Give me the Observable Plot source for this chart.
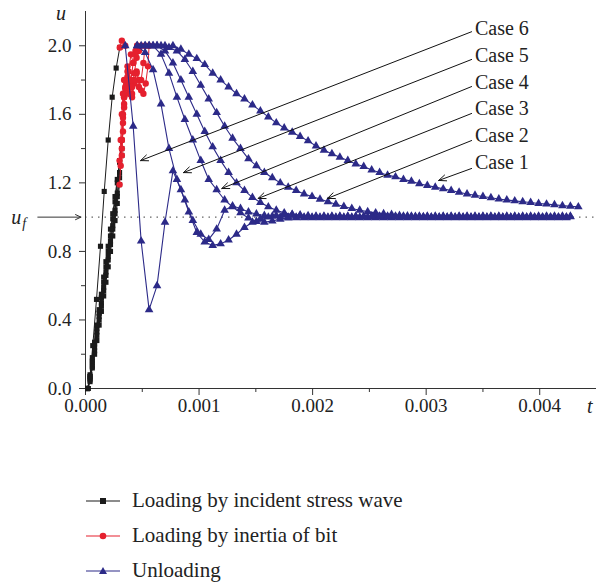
<!DOCTYPE html>
<html>
<head>
<meta charset="utf-8">
<script src="https://cdn.jsdelivr.net/npm/d3@7"></script>
<script src="https://cdn.jsdelivr.net/npm/@observablehq/plot@0.6"></script>
<style>
  html, body { margin: 0; padding: 0; background: #fff; }
  #wrap { position: relative; width: 600px; height: 584px; }
  #legend { position: absolute; left: 86px; top: 483px; font-family: "Liberation Serif", serif; font-size: 21px; color: #222; }
  #legend .row { display: flex; align-items: center; height: 35px; }
  #legend svg { margin-right: 12px; }
</style>
</head>
<body>
<div id="wrap">
  <div id="chart"></div>
  <div id="legend">
    <div class="row"><svg width="34" height="14"><line x1="0" y1="7" x2="34" y2="7" stroke="#1b1b1b" stroke-width="1.2"/><rect x="14" y="4" width="6" height="6" fill="#1b1b1b"/></svg><span>Loading by incident stress wave</span></div>
    <div class="row"><svg width="34" height="14"><line x1="0" y1="7" x2="34" y2="7" stroke="#e5202e" stroke-width="1.2"/><circle cx="17" cy="7" r="3.3" fill="#e5202e"/></svg><span>Loading by inertia of bit</span></div>
    <div class="row"><svg width="34" height="14"><line x1="0" y1="7" x2="34" y2="7" stroke="#2c2a88" stroke-width="1.2"/><polygon points="17,3 21,10 13,10" fill="#2c2a88"/></svg><span>Unloading</span></div>
  </div>
</div>
<script>
// ---------- tick values ----------
const xMajor = [0, 0.001, 0.002, 0.003, 0.004];
const xMinor = [0.0005, 0.0015, 0.0025, 0.0035];
const yMajor = [0, 0.4, 0.8, 1.2, 1.6, 2.0];
const yMinor = [0.2, 0.6, 1.4, 1.8];

// ---------- loading by incident stress wave (black) ----------
const tLoad = [0.00002,0.00004,0.00006,0.00008,0.0001,0.00012,0.00014,0.00016,0.00018,0.0002,0.00022,0.00024,0.00026,0.00028,0.0003,0.00032];
const load1 = [0,0.06,0.15,0.24,0.33,0.42,0.5,0.59,0.68,0.77,0.86,0.95,1.04,1.14,1.26,1.4];
const load2 = [0,0.05,0.13,0.22,0.31,0.4,0.48,0.57,0.66,0.75,0.84,0.93,1.02,1.12,1.23,1.36];
const load3 = [0,0.07,0.16,0.26,0.35,0.44,0.53,0.62,0.71,0.8,0.89,0.99,1.09,1.2,1.32,1.45];
const load4 = [0,0.04,0.12,0.2,0.28,0.37,0.45,0.54,0.62,0.71,0.8,0.89,0.98,1.08,1.19];
const load5 = [0,0.08,0.18,0.27,0.37,0.46,0.55,0.65,0.74,0.83,0.93,1.02,1.12,1.22,1.33];
const tLoad6 = [0.00002,0.00004,0.000064,0.000097,0.000132,0.000165,0.0002,0.000235,0.00027,0.000302];
const load6 = [0,0.07,0.25,0.52,0.83,1.15,1.45,1.7,1.87,1.99];

// ---------- loading by inertia of bit (red), [t, u] ----------
const inertia1 = [[0.00032,1.4],[0.00033,1.55],[0.00034,1.66],[0.00035,1.75],[0.00037,1.82],[0.00039,1.76],[0.00041,1.7],[0.00043,1.78],[0.00045,1.85],[0.00047,1.8],[0.00049,1.74],[0.00051,1.72],[0.00053,1.78],[0.00055,1.88],[0.00056,2.0]];
const inertia2 = [[0.00032,1.36],[0.00033,1.5],[0.00034,1.64],[0.00035,1.76],[0.00037,1.85],[0.00039,1.78],[0.00041,1.72],[0.00043,1.8],[0.00045,1.84],[0.00047,1.76],[0.00049,1.8],[0.00051,1.9],[0.000525,2.0]];
const inertia3 = [[0.00032,1.45],[0.00033,1.58],[0.00034,1.7],[0.00035,1.8],[0.00037,1.88],[0.00039,1.8],[0.00041,1.76],[0.00043,1.84],[0.00045,1.93],[0.00047,1.97],[0.00049,2.0]];
const inertia4 = [[0.0003,1.19],[0.00031,1.3],[0.00032,1.45],[0.00033,1.6],[0.00034,1.7],[0.00036,1.78],[0.00038,1.72],[0.0004,1.8],[0.00042,1.9],[0.00044,1.95],[0.000455,2.0]];
const inertia5 = [[0.0003,1.33],[0.00031,1.45],[0.00032,1.6],[0.00033,1.72],[0.00034,1.8],[0.00036,1.75],[0.00038,1.85],[0.0004,1.95],[0.00042,1.9],[0.00044,1.97],[0.000455,2.0]];
const inertia6 = [[0.000302,1.99],[0.00032,2.03],[0.00035,2.0]];

// ---------- unloading (blue) ----------
const tGridA = [0.00035,0.00042,0.00049,0.00056,0.00063,0.0007,0.00077,0.00084,0.00091,0.00098,
  0.00105,0.00112,0.00119,0.00126,0.00133,0.0014,0.00147,0.00154,0.00161,0.00168,
  0.00175,0.00182,0.00189,0.00196,0.00203,0.0021,0.00217,0.00224,0.00231,0.00238,
  0.00245,0.00252,0.00259,0.00266,0.00273,0.0028,0.00287,0.00294,0.00301,0.00308,
  0.00315,0.00322,0.00329,0.00336,0.00343,0.0035,0.00357,0.00364,0.00371,0.00378,
  0.00385,0.00392,0.00399,0.00406,0.00413,0.0042,0.00427,0.00434];
const tGridB = [0.000385,0.000455,0.000525,0.000595,0.000665,0.000735,0.000805,0.000875,0.000945,0.001015,
  0.001085,0.001155,0.001225,0.001295,0.001365,0.001435,0.001505,0.001575,0.001645,0.001715,
  0.001785,0.001855,0.001925,0.001995,0.002065,0.002135,0.002205,0.002275,0.002345,0.002415,
  0.002485,0.002555,0.002625,0.002695,0.002765,0.002835,0.002905,0.002975,0.003045,0.003115,
  0.003185,0.003255,0.003325,0.003395,0.003465,0.003535,0.003605,0.003675,0.003745,0.003815,
  0.003885,0.003955,0.004025,0.004095,0.004165,0.004235,0.004305];

const unload1 = [null,null,null,2.0,2.0,2.0,2.0,1.98,1.95,1.925,
  1.89,1.84,1.8,1.76,1.72,1.69,1.655,1.62,1.585,1.55,
  1.52,1.495,1.47,1.445,1.415,1.39,1.37,1.35,1.33,1.31,
  1.295,1.275,1.26,1.245,1.235,1.22,1.21,1.195,1.185,1.175,
  1.165,1.155,1.145,1.135,1.128,1.12,1.113,1.106,1.1,1.095,
  1.09,1.085,1.08,1.076,1.072,1.067,1.063,1.06];
const unload2 = [null,null,2.0,2.0,2.0,1.99,1.97,1.92,1.85,1.77,
  1.69,1.61,1.53,1.46,1.4,1.34,1.3,1.26,1.23,1.2,
  1.175,1.155,1.135,1.12,1.105,1.09,1.075,1.062,1.05,1.04,
  1.032,1.025,1.02,1.015,1.01,1.007,1.004,1.002,1.0,1.0,
  1.0,1.0,1.0,1.0,1.0,1.0,1.0,1.0,1.0,1.0,
  1.0,1.0,1.0,1.0,1.0,1.0];
const unload3 = [null,null,2.0,2.0,2.0,1.97,1.9,1.8,1.7,1.6,
  1.5,1.41,1.33,1.26,1.2,1.155,1.115,1.085,1.06,1.04,
  1.025,1.015,1.008,1.003,1.002,1.002,1.002,1.002,1.002,1.002,
  1.002,1.002,1.002,1.002,1.002,1.002,1.002,1.002,1.002,1.002,
  1.002,1.002,1.002,1.002,1.002,1.002,1.002,1.002,1.002,1.002,
  1.002,1.002,1.002,1.002,1.002,1.002,1.002];
const unload4 = [null,2.0,2.0,2.0,1.95,1.84,1.7,1.57,1.45,1.33,
  1.22,1.16,1.1,1.06,1.025,0.995,0.975,0.97,0.978,0.988,
  0.995,0.996,0.996,0.996,0.996,0.996,0.996,0.996,0.996,0.996,
  0.996,0.996,0.996,0.996,0.996,0.996,0.996,0.996,0.996,0.996,
  0.996,0.996,0.996,0.996,0.996,0.996,0.996,0.996,0.996,0.996,
  0.996,0.996,0.996,0.996,0.996,0.996];
const unload5 = [null,2.0,1.96,1.86,1.66,1.4,1.22,1.1,0.98,0.9,
  0.87,0.93,1.04,1.065,1.05,1.03,1.018,1.01,1.005,1.0,
  1.0,1.0,1.0,1.0,1.0,1.0,1.0,1.0,1.0,1.0,
  1.0,1.0,1.0,1.0,1.0,1.0,1.0,1.0,1.0,1.0,
  1.0,1.0,1.0,1.0,1.0,1.0,1.0,1.0,1.0,1.0,
  1.0,1.0,1.0,1.0,1.0,1.0];
const unload6 = [2.0,1.53,0.86,0.46,0.6,0.97,1.27,1.16,1.03,0.91,
  0.855,0.835,0.844,0.867,0.9,0.94,0.97,0.99,1.0,1.01,
  1.015,1.015,1.012,1.008,1.005,1.005,1.005,1.005,1.005,1.005,
  1.005,1.005,1.005,1.005,1.005,1.005,1.005,1.005,1.005,1.005,
  1.005,1.005,1.005,1.005,1.005,1.005,1.005,1.005,1.005,1.005,
  1.005,1.005,1.005,1.005,1.005,1.005,1.005];

// ---------- annotations ----------
const caseNames = ["Case 1","Case 2","Case 3","Case 4","Case 5","Case 6"];
const caseLabelT = 0.00343;
const caseLabelU = [1.319, 1.476, 1.634, 1.786, 1.943, 2.1];
const arrowStartT = 0.0034;
const arrowStartU = [1.284, 1.447, 1.605, 1.762, 1.92, 2.082];
const arrowTipT = [0.00311, 0.00213, 0.00152, 0.0012, 0.000863, 0.000485];
const arrowTipU = [1.214, 1.109, 1.109, 1.167, 1.26, 1.33];
const uf = 1.0;

// ---------- build tables ----------
const black = "#1b1b1b", red = "#e5202e", blue = "#2c2a88";
const loadSeries = [[tLoad, load1], [tLoad, load2], [tLoad, load3], [tLoad, load4], [tLoad, load5], [tLoad6, load6]];
const loadData = loadSeries.flatMap(([ts, us], c) => us.map((u, i) => ({c, t: ts[i], u})));
const inertiaData = [inertia1, inertia2, inertia3, inertia4, inertia5, inertia6]
  .flatMap((s, c) => s.map(([t, u]) => ({c, t, u})));
const unloadSeries = [[tGridA, unload1], [tGridB, unload2], [tGridA, unload3], [tGridB, unload4], [tGridB, unload5], [tGridA, unload6]];
const unloadData = unloadSeries.flatMap(([ts, us], c) => us.map((u, i) => ({c, t: ts[i], u})).filter(d => d.u != null));
const arrows = caseNames.map((name, i) => ({name, x1: arrowStartT, y1: arrowStartU[i], x2: arrowTipT[i], y2: arrowTipU[i]}));
const labels = caseNames.map((name, i) => ({name, t: caseLabelT, u: caseLabelU[i]}));

const axisColor = "#333";
const plot = Plot.plot({
  width: 600,
  height: 420,
  marginLeft: 85,
  marginRight: 4,
  marginTop: 11,
  marginBottom: 32,
  style: {fontFamily: "'Liberation Serif', serif", fontSize: "19px", color: "#222", background: "white"},
  x: {domain: [0, 0.0045], label: null},
  y: {domain: [0, 2.2], label: null},
  marks: [
    Plot.ruleY([uf], {stroke: "#666", strokeDasharray: "1.5,5", strokeWidth: 1.2}),
    Plot.ruleX([0], {stroke: axisColor}),
    Plot.ruleY([0], {stroke: axisColor}),
    Plot.axisX({ticks: xMajor, tickSize: 7, tickPadding: 3, tickFormat: d3.format(".3f"), label: null, stroke: axisColor, fontSize: 19}),
    Plot.axisX({ticks: xMinor, tickSize: 4, tickFormat: () => "", label: null, stroke: axisColor}),
    Plot.axisY({ticks: yMajor, tickSize: 6, tickPadding: 8, tickFormat: d3.format(".1f"), label: null, stroke: axisColor, fontSize: 19}),
    Plot.axisY({ticks: yMinor, tickSize: 4, tickFormat: () => "", label: null, stroke: axisColor}),
    // axis variable names
    Plot.text([0], {x: -0.000215, y: 2.19, text: () => "u", fontStyle: "italic", fontSize: 20, fill: "#222"}),
    Plot.text([0], {x: 0.00444, y: -0.105, text: () => "t", fontStyle: "italic", fontSize: 20, fill: "#222"}),
    Plot.text([0], {x: -0.00061, y: uf, text: () => "u", fontStyle: "italic", fontSize: 20, fill: "#222"}),
    Plot.text([0], {x: -0.00061, y: uf, dx: 8, dy: 6, text: () => "f", fontStyle: "italic", fontSize: 14, fill: "#222"}),
    Plot.arrow([0], {x1: -0.00042, x2: -0.00004, y1: uf, y2: uf, stroke: "#333", strokeWidth: 1, headLength: 9, headAngle: 50}),
    // curves
    Plot.line(loadData, {x: "t", y: "u", z: "c", stroke: black, strokeWidth: 1}),
    Plot.dot(loadData, {x: "t", y: "u", symbol: "square", r: 2.9, fill: black}),
    Plot.line(inertiaData, {x: "t", y: "u", z: "c", stroke: red, strokeWidth: 1}),
    Plot.dot(inertiaData, {x: "t", y: "u", r: 3.2, fill: red}),
    Plot.line(unloadData, {x: "t", y: "u", z: "c", stroke: blue, strokeWidth: 1.1}),
    Plot.dot(unloadData, {x: "t", y: "u", symbol: "triangle", r: 3.2, fill: blue}),
    // case annotations
    Plot.arrow(arrows, {x1: "x1", y1: "y1", x2: "x2", y2: "y2", stroke: "#111", strokeWidth: 1, headLength: 12, headAngle: 45}),
    Plot.text(labels, {x: "t", y: "u", text: "name", textAnchor: "start", fontSize: 20, fill: "#222"})
  ]
});
document.getElementById("chart").appendChild(plot);
</script>
</body>
</html>
